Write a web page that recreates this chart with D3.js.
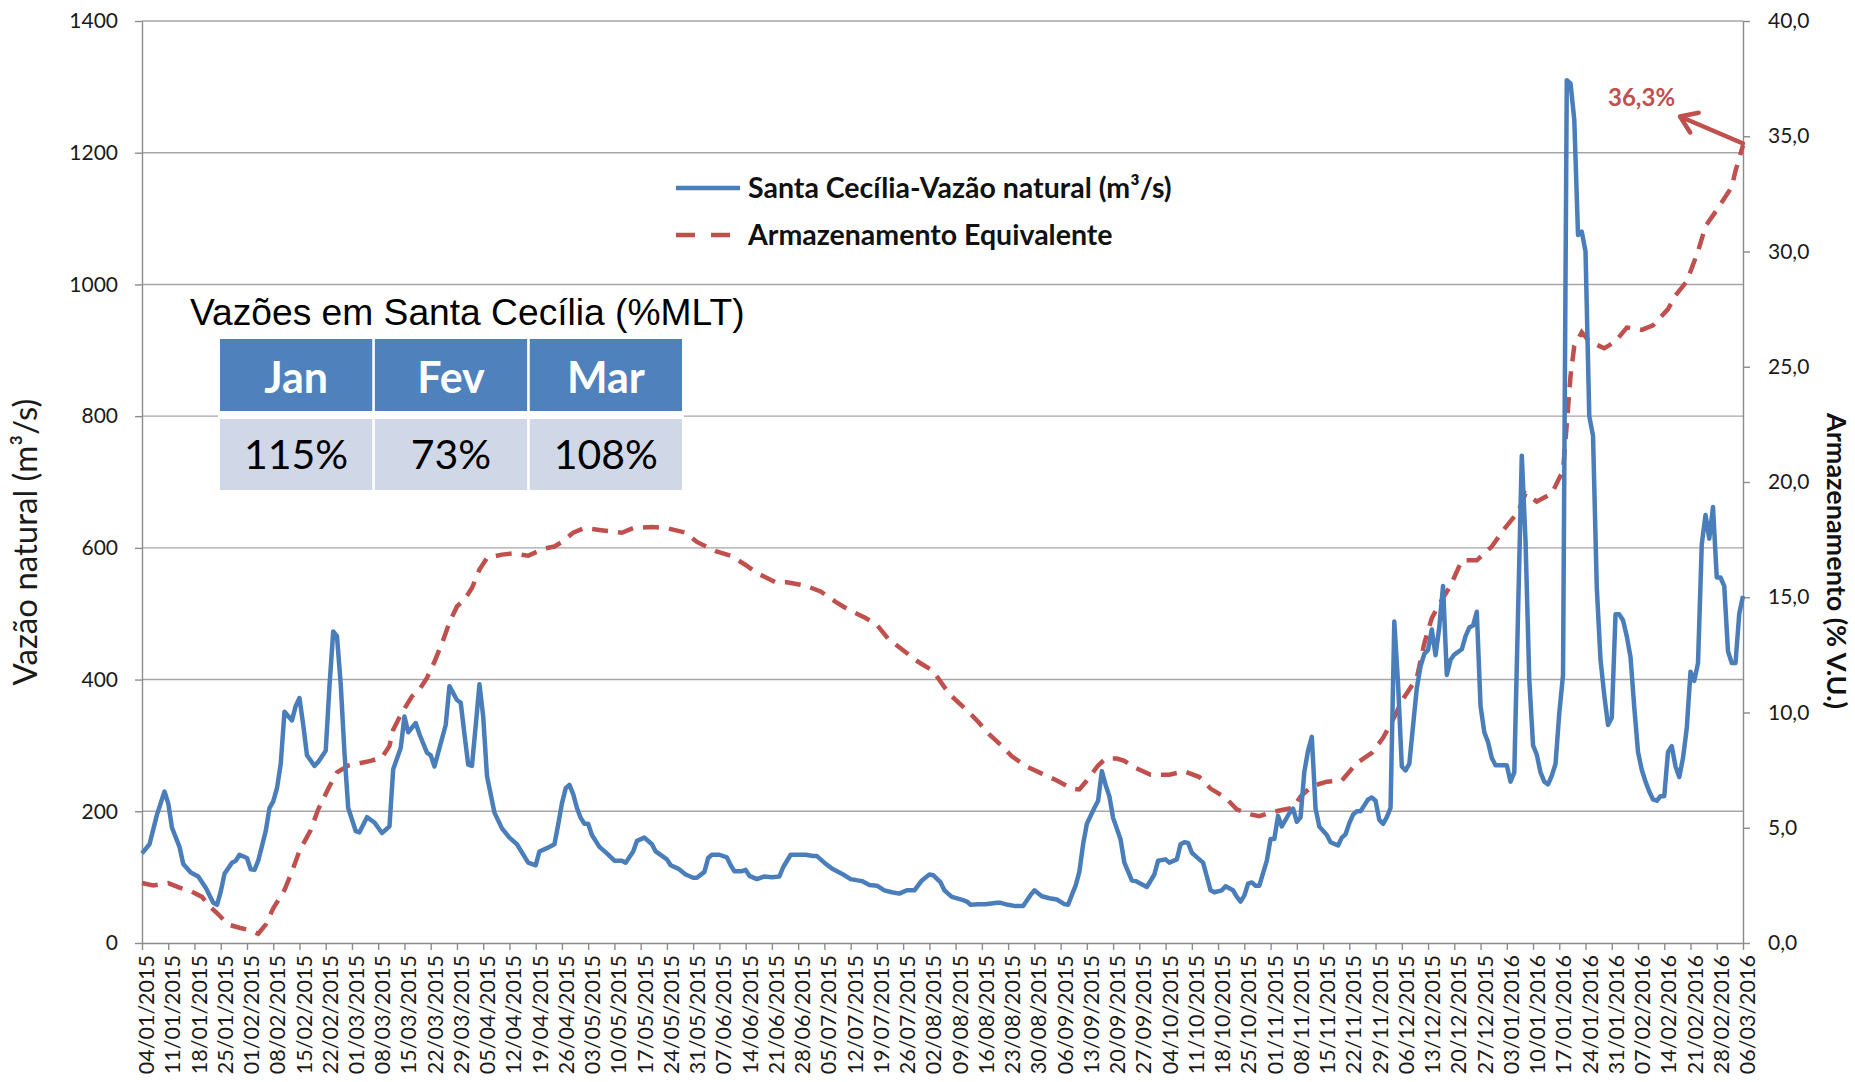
<!DOCTYPE html>
<html>
<head>
<meta charset="utf-8">
<script src="https://cdn.jsdelivr.net/npm/d3@7"></script>
<style>
  body { margin: 0; background: #fff; }
</style>
</head>
<body>
<svg id="chart" width="1855" height="1082" font-family="Lato, 'Open Sans', sans-serif"></svg>
<script>
// first and last day on the date axis
var startDate = "2015-01-04";
var endDate = "2016-03-06";

// Santa Cecília natural flow (m3/s), day = days after startDate
var vazaoDay = [0,2,4,6,7,8,10,11,13,15,17,19,20,21,22,24,25,26,28,29,30,31,33,34,35,36,37,38,40,41,42,43,44,46,47,49,50,51,52,53,54,55,57,58,60,62,64,66,67,69,70,71,73,74,76,77,78,79,81,82,84,85,86,87,88,89,90,91,92,94,96,98,100,103,105,106,108,110,111,112,113,114,115,116,117,118,119,120,122,124,126,128,129,131,132,134,136,137,140,141,143,145,147,148,150,151,152,154,156,157,158,160,161,162,164,166,168,170,171,173,175,177,179,180,182,184,187,189,192,194,196,198,200,202,204,206,208,210,211,213,214,215,216,219,220,221,223,225,228,229,231,233,235,237,238,240,242,244,246,247,248,249,250,251,252,254,255,256,257,258,259,261,262,264,265,267,268,270,271,273,274,276,277,278,279,280,281,283,284,285,286,288,289,291,292,293,294,295,296,297,298,300,301,302,303,304,306,307,308,309,310,311,312,313,314,316,317,319,320,321,322,323,324,325,326,327,328,329,330,331,332,333,334,335,336,337,338,339,340,341,342,343,344,345,346,347,348,349,350,352,353,354,355,356,357,358,359,360,361,363,364,365,366,367,368,369,370,371,372,373,374,375,376,377,378,379,380,381,382,383,384,385,386,387,388,389,390,391,392,393,394,395,396,397,398,399,400,401,402,403,404,405,406,407,408,409,410,411,412,413,414,415,416,417,418,419,420,421,422,423,424,425,426,427];
var vazaoValue = [136,150,195,230,212,175,146,120,107,101,84,61,58,78,105,122,125,134,129,112,111,125,170,205,215,235,272,351,338,360,372,331,285,269,275,292,390,473,466,393,289,205,170,168,191,183,167,177,264,296,344,320,334,317,289,285,268,289,331,390,369,365,317,271,269,330,393,344,254,198,174,160,150,122,118,139,144,150,180,212,235,240,226,205,190,181,181,164,146,136,125,125,122,139,155,160,150,139,127,118,113,104,99,99,108,129,134,134,130,118,109,109,111,102,97,101,100,101,115,134,134,134,132,132,122,113,104,97,94,88,87,80,77,75,80,80,95,104,103,92,80,75,70,65,63,58,59,59,61,61,58,56,56,73,80,71,68,66,59,58,73,87,108,150,181,205,216,261,240,223,190,157,122,95,94,88,85,104,125,127,122,127,150,153,152,137,132,122,101,80,77,80,86,80,70,63,72,90,92,87,87,125,158,158,193,177,197,204,184,191,260,292,313,204,177,164,153,148,160,165,182,195,200,200,209,218,221,216,187,181,191,205,488,394,268,262,272,330,387,420,439,445,476,437,480,542,407,430,438,446,466,479,482,503,360,320,305,281,270,270,270,245,259,500,740,610,400,300,286,259,245,241,254,272,349,407,1310,1305,1250,1075,1080,1050,800,770,540,430,376,331,342,499,499,490,466,434,358,290,263,245,230,218,216,223,223,290,299,268,252,281,326,412,398,425,605,650,614,662,555,555,542,443,425,425,500,527];

// equivalent storage (% V.U.), right axis
var armazDay = [0,3,7,10,13,16,18,20,23,26,29,31,33,35,38,40,42,45,47,50,52,55,58,61,64,66,67,69,72,74,76,78,80,82,84,86,88,90,92,96,99,103,107,110,112,115,118,123,128,131,136,140,145,148,153,157,161,164,169,172,177,181,185,188,193,196,199,203,207,211,214,216,220,223,226,229,232,236,240,244,248,250,252,255,257,260,262,265,269,274,278,282,285,289,292,295,298,301,304,307,309,312,316,320,324,328,331,334,336,340,342,344,346,349,352,356,360,363,367,369,372,376,379,380,381,382,384,386,390,393,396,400,403,407,409,412,415,417,420,424,425,427];
var armazValue = [2.6,2.5,2.6,2.4,2.25,2.0,1.6,1.3,0.8,0.66,0.54,0.4,0.8,1.5,2.3,3.1,4.0,4.9,5.8,6.8,7.4,7.7,7.8,7.9,8.05,8.55,9.25,9.9,10.7,11.0,11.5,12.2,13.0,13.9,14.6,14.9,15.4,16.2,16.7,16.85,16.9,16.8,17.1,17.2,17.4,17.8,18.0,17.9,17.8,18.0,18.05,18.0,17.8,17.4,17.0,16.8,16.4,16.05,15.65,15.65,15.5,15.25,14.8,14.5,14.1,13.8,13.2,12.7,12.2,11.8,11.1,10.7,10.1,9.6,9.05,8.6,8.1,7.65,7.35,7.05,6.7,6.66,7.05,7.7,8.0,8.0,7.9,7.6,7.3,7.3,7.45,7.2,6.7,6.3,5.8,5.6,5.5,5.66,5.77,5.87,6.36,6.8,7.0,7.05,7.8,8.25,8.9,9.8,10.5,11.5,13.0,14.1,14.7,15.5,16.6,16.6,17.2,17.9,18.7,19.5,19.15,19.5,20.5,22.5,24.6,25.9,26.5,26.1,25.8,26.1,26.7,26.6,26.8,27.5,28.1,28.7,30.0,31.1,31.8,32.8,33.5,34.6];

var leftTicks = [0, 200, 400, 600, 800, 1000, 1200, 1400];
var rightTicks = [0, 5, 10, 15, 20, 25, 30, 35, 40];

var tableMonths = ["Jan", "Fev", "Mar"];
var tablePercent = ["115%", "73%", "108%"];
var lastLabel = "36,3%";

var blue = "#4A7EBB", red = "#C0504D", grid = "#A6A6A6";

var margin = {top: 21, left: 142};
var width = 1601, height = 922;

var parse = d3.utcParse("%Y-%m-%d");
var t0 = parse(startDate), t1 = parse(endDate);
var day = function(d) { return d3.utcDay.offset(t0, d); };

var svg = d3.select("#chart");
var g = svg.append("g").attr("transform", `translate(${margin.left},${margin.top})`);

var x = d3.scaleUtc().domain([t0, t1]).range([0, width]);
var yLeft = d3.scaleLinear().domain([0, 1400]).range([height, 0]);
var yRight = d3.scaleLinear().domain([0, 40]).range([height, 0]);

// gridlines
g.selectAll(".grid").data(leftTicks.slice(1)).enter()
  .append("line")
  .attr("x1", 0).attr("x2", width)
  .attr("y1", d => yLeft(d)).attr("y2", d => yLeft(d))
  .attr("stroke", grid).attr("stroke-width", 1.4);

// left axis
var leftAxis = g.append("g")
  .call(d3.axisLeft(yLeft).tickValues(leftTicks).tickFormat(d3.format("d"))
    .tickSize(7).tickPadding(17).tickSizeOuter(0));
leftAxis.selectAll("text").attr("font-size", 21).attr("fill", "#1a1a1a");

// right axis
var commaFmt = d => d3.format(".1f")(d).replace(".", ",");
var rightAxis = g.append("g")
  .attr("transform", `translate(${width},0)`)
  .call(d3.axisRight(yRight).tickValues(rightTicks).tickFormat(commaFmt).tickSize(7).tickPadding(18).tickSizeOuter(0));
rightAxis.selectAll("text").attr("font-size", 21).attr("fill", "#1a1a1a");

// bottom axis, one label per week
var weeks = d3.utcWeek.range(t0, d3.utcDay.offset(t1, 1));
var bottomAxis = g.append("g")
  .attr("transform", `translate(0,${height})`)
  .call(d3.axisBottom(x).tickValues(weeks).tickFormat(d3.utcFormat("%d/%m/%Y")).tickSize(7).tickSizeOuter(0));
bottomAxis.selectAll("text")
  .attr("font-size", 21.5).attr("fill", "#1a1a1a")
  .attr("transform", "rotate(-90)")
  .attr("text-anchor", "end")
  .attr("x", -12).attr("y", 4).attr("dy", "0.35em");

// d3 axes set their own font-family; use the svg one
svg.selectAll("g").attr("font-family", null);
svg.selectAll(".domain, .tick line").attr("stroke", "#8C8C8C").attr("stroke-width", 1.4);

// axis titles
svg.append("text")
  .attr("transform", "translate(37,542) rotate(-90)")
  .attr("text-anchor", "middle")
  .attr("font-size", 33).attr("fill", "#1a1a1a")
  .text("Vazão natural (m³/s)");

svg.append("text")
  .attr("transform", "translate(1827,561) rotate(90)")
  .attr("text-anchor", "middle")
  .attr("font-size", 27).attr("font-weight", "bold").attr("fill", "#111")
  .text("Armazenamento (% V.U.)");

// series
var armazLine = d3.line()
  .x((d, i) => x(day(armazDay[i])))
  .y(d => yRight(d));
g.append("path")
  .datum(armazValue)
  .attr("d", armazLine)
  .attr("fill", "none").attr("stroke", red).attr("stroke-width", 4.5)
  .attr("stroke-dasharray", "16,10");

var vazaoLine = d3.line()
  .x((d, i) => x(day(vazaoDay[i])))
  .y(d => yLeft(d));
g.append("path")
  .datum(vazaoValue)
  .attr("d", vazaoLine)
  .attr("fill", "none").attr("stroke", blue).attr("stroke-width", 4.5)
  .attr("stroke-linejoin", "round");

// legend
var legend = svg.append("g").attr("transform", "translate(676,188)");
legend.append("line").attr("x1", 0).attr("x2", 64).attr("y1", 0).attr("y2", 0)
  .attr("stroke", blue).attr("stroke-width", 4.5);
legend.append("line").attr("x1", 0).attr("x2", 54).attr("y1", 47).attr("y2", 47)
  .attr("stroke", red).attr("stroke-width", 4.5).attr("stroke-dasharray", "19,16");
legend.selectAll("text")
  .data(["Santa Cecília-Vazão natural (m³/s)", "Armazenamento Equivalente"])
  .enter().append("text")
  .attr("x", 72).attr("y", (d, i) => 10 + i * 47)
  .attr("font-size", 28.5).attr("font-weight", "bold").attr("fill", "#111")
  .text(d => d);

// MLT table
svg.append("text")
  .attr("x", 190).attr("y", 325)
  .attr("font-family", "'Liberation Sans', Arial, sans-serif")
  .attr("font-size", 37.2).attr("fill", "#000")
  .text("Vazões em Santa Cecília (%MLT)");

var table = svg.append("g").attr("transform", "translate(220,339)");
table.append("rect").attr("x", -2).attr("y", -2).attr("width", 466).attr("height", 154).attr("fill", "#fff");
var colX = d3.scaleBand().domain(tableMonths).range([0, 462]).paddingInner(0.017);
table.selectAll(".head").data(tableMonths).enter().append("rect")
  .attr("x", d => colX(d)).attr("y", 0)
  .attr("width", colX.bandwidth()).attr("height", 72).attr("fill", "#4F81BD");
table.selectAll(".body").data(tableMonths).enter().append("rect")
  .attr("x", d => colX(d)).attr("y", 80)
  .attr("width", colX.bandwidth()).attr("height", 71).attr("fill", "#D0D8E8");
table.selectAll(".headText").data(tableMonths).enter().append("text")
  .attr("x", d => colX(d) + colX.bandwidth() / 2).attr("y", 54)
  .attr("text-anchor", "middle").attr("font-size", 43).attr("font-weight", "bold").attr("fill", "#fff")
  .text(d => d);
table.selectAll(".bodyText").data(tablePercent).enter().append("text")
  .attr("x", (d, i) => colX(tableMonths[i]) + colX.bandwidth() / 2).attr("y", 130)
  .attr("text-anchor", "middle").attr("font-size", 41).attr("fill", "#000")
  .text(d => d);

// arrow pointing from the last storage value to its label
var tailX = margin.left + x(day(armazDay[armazDay.length - 1]));
var tailY = margin.top + yRight(armazValue[armazValue.length - 1]) - 2;
var headX = tailX - 63, headY = tailY - 27;
var ang = Math.atan2(tailY - headY, tailX - headX);
var wing = 19, spread = 0.6;
svg.append("path")
  .attr("d", `M${tailX},${tailY}L${headX},${headY}` +
    `M${headX + wing * Math.cos(ang - spread)},${headY + wing * Math.sin(ang - spread)}L${headX},${headY}` +
    `L${headX + wing * Math.cos(ang + spread)},${headY + wing * Math.sin(ang + spread)}`)
  .attr("fill", "none").attr("stroke", red).attr("stroke-width", 4.5)
  .attr("stroke-linecap", "round").attr("stroke-linejoin", "round");
svg.append("text")
  .attr("x", 1608).attr("y", 106)
  .attr("font-size", 24).attr("font-weight", "bold").attr("fill", red)
  .text(lastLabel);
</script>
</body>
</html>
